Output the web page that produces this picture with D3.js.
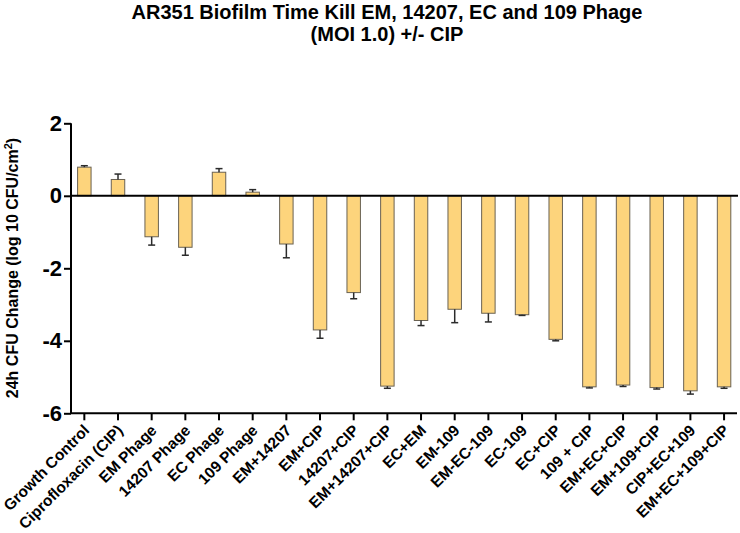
<!DOCTYPE html>
<html>
<head>
<meta charset="utf-8">
<script src="https://cdnjs.cloudflare.com/ajax/libs/d3/7.8.5/d3.min.js"></script>
<style>
  html, body { margin: 0; padding: 0; background: #fff; }
  svg { display: block; font-family: "Liberation Sans", Arial, Helvetica, sans-serif; }
</style>
</head>
<body>
<svg id="chart" width="740" height="533"></svg>
<script>
const categories = [
  "Growth Control", "Ciprofloxacin (CIP)", "EM Phage", "14207 Phage", "EC Phage",
  "109 Phage", "EM+14207", "EM+CIP", "14207+CIP", "EM+14207+CIP",
  "EC+EM", "EM-109", "EM-EC-109", "EC-109", "EC+CIP",
  "109 + CIP", "EM+EC+CIP", "EM+109+CIP", "CIP+EC+109", "EM+EC+109+CIP"
];
const means = [
  0.79, 0.45, -1.13, -1.42, 0.65,
  0.10, -1.33, -3.70, -2.67, -5.25,
  -3.44, -3.13, -3.24, -3.28, -3.96,
  -5.27, -5.22, -5.29, -5.38, -5.27
];
const errors = [
  0.04, 0.15, 0.23, 0.22, 0.10,
  0.07, 0.38, 0.23, 0.17, 0.06,
  0.14, 0.37, 0.24, 0.02, 0.04,
  0.03, 0.04, 0.04, 0.09, 0.04
];
const yTicks = [-6, -4, -2, 0, 2];
const titleLines = ["AR351 Biofilm Time Kill EM, 14207, EC and 109 Phage", "(MOI 1.0) +/- CIP"];

const svg = d3.select("#chart");

const x = d3.scaleBand().domain(categories).range([67.5, 740.9]).paddingInner(0.6).paddingOuter(0.3);
const y = d3.scaleLinear().domain([-6, 2]).range([413.3, 123.3]);
const axisLeftX = 71;
const axisRightX = 737;

// Title
svg.append("text")
  .attr("x", 387).attr("y", 19)
  .attr("text-anchor", "middle")
  .style("font-size", "20px").style("font-weight", "bold")
  .selectAll("tspan").data(titleLines).join("tspan")
  .attr("x", 387).attr("dy", (d, i) => i === 0 ? 0 : 22)
  .text(d => d);

// Bars
const bars = svg.append("g");
bars.selectAll("rect").data(categories).join("rect")
  .attr("x", d => x(d))
  .attr("width", x.bandwidth())
  .attr("y", (d, i) => y(Math.max(0, means[i])))
  .attr("height", (d, i) => Math.abs(y(means[i]) - y(0)))
  .attr("fill", "#FDD47C")
  .attr("stroke", "#6a6253")
  .attr("stroke-width", 1);

// Error bars (one-sided, away from zero)
const eb = svg.append("g").attr("stroke", "#2b2b2b").attr("stroke-width", 1.5);
categories.forEach((c, i) => {
  const cx = x(c) + x.bandwidth() / 2;
  const m = means[i];
  const e = m >= 0 ? m + errors[i] : m - errors[i];
  eb.append("line").attr("x1", cx).attr("x2", cx).attr("y1", y(m)).attr("y2", y(e));
  eb.append("line").attr("x1", cx - 3.5).attr("x2", cx + 3.5).attr("y1", y(e)).attr("y2", y(e));
});

// Zero line
svg.append("line")
  .attr("x1", axisLeftX).attr("x2", axisRightX + 1)
  .attr("y1", y(0)).attr("y2", y(0))
  .attr("stroke", "#000").attr("stroke-width", 2);

// Y axis
const yAxis = svg.append("g")
  .attr("transform", `translate(${axisLeftX},0)`)
  .call(d3.axisLeft(y).tickValues(yTicks).tickSize(7).tickPadding(2).tickFormat(d3.format("d")));
yAxis.select(".domain").attr("stroke", "#000").attr("stroke-width", 2).attr("d", `M0,${y(2)}V${y(-6)}`);
yAxis.selectAll(".tick line").attr("stroke", "#000").attr("stroke-width", 2);
yAxis.selectAll(".tick text")
  .style("font-size", "22px").style("font-weight", "bold")
  .style("font-family", "'Liberation Sans', Arial, sans-serif")
  .attr("fill", "#000")
  .text(d => d < 0 ? "-" + Math.abs(d) : d);

// X axis
const xAxis = svg.append("g")
  .attr("transform", `translate(0,${y(-6)})`)
  .call(d3.axisBottom(x).tickSize(7));
xAxis.select(".domain").attr("stroke", "#000").attr("stroke-width", 2).attr("d", `M${axisLeftX},0H${axisRightX}`);
xAxis.selectAll(".tick line").attr("stroke", "#000").attr("stroke-width", 2);
xAxis.selectAll(".tick text")
  .attr("x", 0).attr("y", 0).attr("dy", 0)
  .attr("transform", "translate(6,18) rotate(-45)")
  .style("text-anchor", "end")
  .style("font-size", "15.5px").style("font-weight", "bold")
  .style("font-family", "'Liberation Sans', Arial, sans-serif")
  .attr("fill", "#000");

// Y axis label
const yl = svg.append("text")
  .attr("transform", "translate(18,268) rotate(-90)")
  .attr("text-anchor", "middle")
  .style("font-size", "16px").style("font-weight", "bold");
yl.append("tspan").text("24h CFU Change (log 10 CFU/cm");
yl.append("tspan").attr("dy", -6).style("font-size", "11px").text("2");
yl.append("tspan").attr("dy", 6).text(")");
</script>
</body>
</html>
